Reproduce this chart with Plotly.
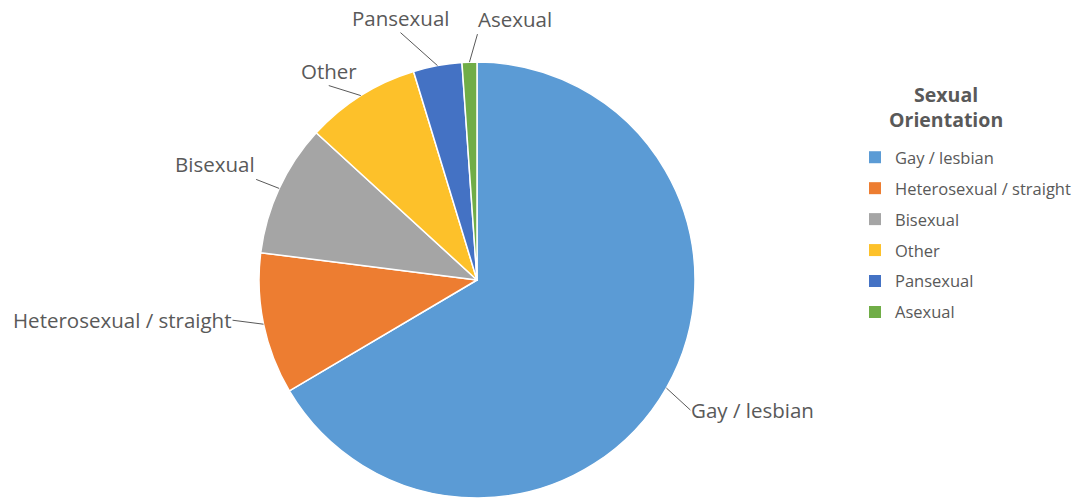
import math
import plotly.graph_objects as go

# ---- data ----
labels = ["Gay / lesbian", "Heterosexual / straight", "Bisexual", "Other", "Pansexual", "Asexual"]
values = [66.5, 10.5, 9.8, 8.5, 3.6, 1.1]
colors = ["#5B9BD5", "#ED7D31", "#A5A5A5", "#FDC12A", "#4472C4", "#70AD47"]
legend_title = "Sexual<br>Orientation"

# ---- layout constants (pixels) ----
W, H = 1078, 500
CX, CY, R = 477, 280, 218
FONT = "Open Sans"
TXT = "#595959"

# label placement style: (ax, ay, xanchor, yanchor) offsets of the leader tail from slice edge
label_style = [
    (24, 22, "left", "middle"),
    (-31, -4, "right", "middle"),
    (-23, -9, "right", "bottom"),
    (-32, -10, "center", "bottom"),
    (-37, -33, "center", "bottom"),
    (8, -28, "left", "bottom"),
]

fig = go.Figure()
fig.add_trace(go.Pie(
    labels=labels, values=values, sort=False, direction="clockwise", rotation=0,
    marker=dict(colors=colors, line=dict(color="white", width=1.5)),
    textinfo="none", hoverinfo="label+percent", showlegend=False,
    domain=dict(x=[(CX - R) / W, (CX + R) / W], y=[(H - CY - R) / H, (H - CY + R) / H]),
))

# legend entries (dummy traces so spacing can match)
for lab, col in zip(labels, colors):
    fig.add_trace(go.Scatter(
        x=[None], y=[None], mode="markers", name=lab, legendgroup=lab,
        marker=dict(symbol="square", size=12, color=col), showlegend=True,
    ))

# leader-line labels computed from slice mid-angles
total = sum(values)
cum = 0.0
annotations = []
for lab, v, (ax, ay, xa, ya) in zip(labels, values, label_style):
    mid = (cum + v / 2) / total * 2 * math.pi
    cum += v
    px = CX + R * math.sin(mid)
    py = CY - R * math.cos(mid)
    annotations.append(dict(
        x=px / W, y=1 - py / H, xref="paper", yref="paper",
        text=lab, showarrow=True, arrowhead=0, arrowwidth=1, arrowcolor=TXT,
        ax=ax, ay=ay, xanchor=xa, yanchor=ya, standoff=0, startstandoff=0,
        font=dict(family=FONT, size=20.5, color=TXT), borderpad=0,
    ))

# legend title (centred over the legend entries)
annotations.append(dict(
    x=946 / W, y=1 - 107 / H, xref="paper", yref="paper", showarrow=False,
    text=legend_title, xanchor="center", yanchor="middle", align="center",
    font=dict(family=FONT, size=19.5, color=TXT, weight="bold"),
))

fig.update_layout(
    width=W, height=H, margin=dict(l=0, r=0, t=0, b=0),
    paper_bgcolor="white", plot_bgcolor="white",
    xaxis=dict(visible=False), yaxis=dict(visible=False),
    annotations=annotations,
    legend=dict(
        x=855 / W, y=(H - 140) / H, xanchor="left", yanchor="top",
        font=dict(family=FONT, size=16.5, color=TXT),
        tracegroupgap=6.5, itemclick=False,
    ),
    font=dict(family=FONT, color=TXT),
)

fig.write_html("out.html")
